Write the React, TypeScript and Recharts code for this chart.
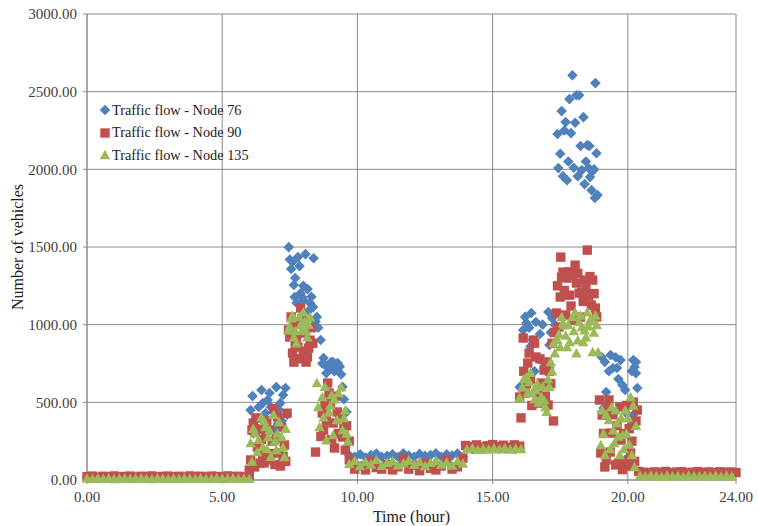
import { ScatterChart, Scatter, XAxis, YAxis, CartesianGrid } from "recharts"

const FONT = '"Liberation Serif", "Times New Roman", serif'

const hourTicks = [0, 5, 10, 15, 20, 24]
const vehicleTicks = [0, 500, 1000, 1500, 2000, 2500, 3000]

const seriesNames = ["Traffic flow - Node 76", "Traffic flow - Node 90", "Traffic flow - Node 135"]
const seriesColors = ["#4F81BD", "#C0504D", "#9BBB59"]

// [hour, vehicles]
const node76: [number, number][] = [
  [0, 14], [0.2, 16], [0.4, 12], [0.6, 15], [0.8, 18], [1.0, 13], [1.2, 15], [1.4, 17], [1.6, 12], [1.8, 14],
  [2.0, 16], [2.2, 15], [2.4, 13], [2.6, 17], [2.8, 14], [3.0, 12], [3.2, 15], [3.4, 16], [3.6, 14], [3.8, 13],
  [4.0, 15], [4.2, 17], [4.4, 14], [4.6, 12], [4.8, 16], [5.0, 15], [5.2, 13], [5.4, 14], [5.6, 16], [5.8, 15], [6.0, 13],
  [6.05, 450], [6.12, 540], [6.2, 380], [6.3, 310], [6.45, 579], [6.5, 495], [6.6, 430], [6.68, 515], [6.8, 470],
  [6.9, 438], [7.0, 598], [7.05, 360], [7.15, 495], [7.25, 547], [7.34, 592], [7.4, 420],
  [6.15, 300], [6.35, 470], [6.55, 390], [6.75, 560], [6.95, 330], [7.1, 450], [7.2, 380],
  [7.46, 1499], [7.55, 1358], [7.6, 1403], [7.65, 1255], [7.68, 1178], [7.8, 1435], [7.86, 1377], [7.95, 1178],
  [7.9, 1203], [8.08, 1454], [8.0, 1158], [8.16, 1229], [8.25, 1139], [8.38, 1428], [8.36, 1113], [8.5, 1050],
  [8.64, 901], [8.55, 980], [7.5, 1420], [7.7, 1300], [7.75, 1140], [8.0, 1250], [8.2, 1090], [8.3, 1180], [8.45, 1020],
  [8.75, 785], [8.85, 688], [8.95, 547], [9.0, 721], [9.03, 759], [9.15, 700], [9.27, 753], [9.35, 730],
  [9.45, 600], [9.6, 438], [9.5, 520], [8.7, 750], [8.8, 740], [9.1, 760], [9.2, 720], [9.4, 680],
  [9.7, 160], [9.9, 150], [10.1, 165], [10.3, 145], [10.5, 160], [10.7, 170], [10.9, 150], [11.1, 155], [11.3, 165],
  [11.5, 148], [11.7, 172], [11.9, 158], [12.1, 150], [12.3, 168], [12.5, 155], [12.7, 160], [12.9, 172], [13.1, 150],
  [13.3, 165], [13.5, 158], [13.7, 170], [13.9, 150],
  [14.05, 205], [14.25, 200], [14.45, 210], [14.65, 200], [14.85, 205], [15.05, 210], [15.25, 200], [15.45, 205],
  [15.65, 210], [15.85, 200], [16.0, 205],
  [16.0, 598], [16.13, 965], [16.25, 1010], [16.43, 1075], [16.5, 901], [16.55, 700], [16.6, 1017], [16.7, 780],
  [16.75, 940], [16.9, 753], [17.06, 1081], [17.1, 869], [17.2, 1042], [17.3, 1000],
  [16.2, 1050], [16.35, 980], [16.85, 1000], [17.15, 950], [16.4, 860],
  [17.4, 2227], [17.43, 2008], [17.55, 2375], [17.6, 1956], [17.7, 2304], [17.75, 1930], [17.84, 2452], [17.9, 2233],
  [17.95, 2606], [18.0, 2010], [18.1, 2477], [18.2, 2477], [18.15, 1956], [18.3, 1995], [18.36, 2336], [18.4, 1905],
  [18.5, 2156], [18.55, 2008], [18.58, 2150], [18.66, 1866], [18.7, 1990], [18.8, 2555], [18.84, 2104], [18.88, 1834],
  [18.78, 1815], [17.5, 2100], [17.65, 2250], [17.8, 2050], [18.05, 2300], [18.25, 2150], [18.45, 2050], [18.6, 1950],
  [18.75, 2000],
  [19.03, 792], [19.1, 463], [19.2, 566], [19.36, 804], [19.45, 721], [19.6, 721], [19.73, 772], [19.8, 611],
  [19.9, 579], [19.9, 130], [20.0, 420], [20.05, 90], [20.1, 350], [20.2, 772], [20.25, 727], [20.3, 688],
  [20.35, 592], [20.2, 418], [19.15, 760], [19.3, 700], [19.55, 790], [19.65, 650], [20.15, 700], [20.3, 760],
  [20.45, 45], [20.65, 40], [20.85, 48], [21.05, 42], [21.25, 38], [21.45, 46], [21.65, 44], [21.85, 40], [22.05, 47],
  [22.25, 43], [22.45, 39], [22.65, 45], [22.85, 42], [23.05, 48], [23.25, 41], [23.45, 44], [23.65, 40], [23.85, 46],
]

const node90: [number, number][] = [
  [0, 22], [0.2, 25], [0.4, 19], [0.6, 24], [0.8, 21], [1.0, 26], [1.2, 20], [1.4, 23], [1.6, 25], [1.8, 19],
  [2.0, 24], [2.2, 22], [2.4, 26], [2.6, 20], [2.8, 23], [3.0, 25], [3.2, 21], [3.4, 24], [3.6, 19], [3.8, 26],
  [4.0, 22], [4.2, 24], [4.4, 20], [4.6, 25], [4.8, 23], [5.0, 21], [5.2, 26], [5.4, 22], [5.6, 24], [5.8, 20], [6.0, 25],
  [6.0, 64], [6.05, 129], [6.1, 322], [6.15, 367], [6.2, 84], [6.3, 212], [6.4, 109], [6.5, 160], [6.6, 290],
  [6.7, 129], [6.75, 322], [6.85, 250], [6.95, 100], [7.0, 270], [7.05, 405], [7.1, 174], [7.2, 340], [7.3, 225],
  [7.35, 120], [7.4, 430], [6.25, 400], [6.45, 260], [6.55, 110], [6.65, 380], [6.8, 170], [6.9, 460], [7.15, 90],
  [7.25, 150], [6.35, 330],
  [7.45, 965], [7.5, 920], [7.6, 817], [7.65, 759], [7.75, 920], [7.8, 856], [7.9, 1107], [7.95, 1040], [8.05, 946],
  [8.1, 759], [8.15, 792], [8.2, 849], [8.3, 980], [8.35, 880], [7.55, 1050], [7.7, 870], [7.85, 780], [8.0, 830],
  [8.25, 900], [7.7, 1000],
  [8.45, 180], [8.7, 431], [8.75, 322], [8.8, 483], [8.9, 624], [8.95, 560], [9.0, 495], [9.1, 367], [9.15, 206],
  [9.25, 438], [9.3, 300], [9.45, 277], [9.55, 193], [9.6, 350], [9.7, 250], [8.85, 380], [9.05, 260], [9.2, 540],
  [9.35, 420], [9.5, 330], [8.65, 280],
  [9.7, 130], [9.9, 70], [10.1, 90], [10.3, 65], [10.5, 120], [10.7, 80], [10.9, 70], [11.1, 100], [11.3, 65],
  [11.5, 85], [11.7, 140], [11.9, 70], [12.1, 95], [12.3, 60], [12.5, 110], [12.7, 75], [12.9, 65], [13.1, 90],
  [13.3, 130], [13.5, 70], [13.7, 85], [13.9, 140],
  [14.0, 222], [14.2, 214], [14.4, 226], [14.6, 212], [14.8, 220], [15.0, 228], [15.2, 215], [15.4, 224], [15.6, 210],
  [15.8, 226], [16.0, 218],
  [16.0, 534], [16.05, 400], [16.13, 914], [16.2, 560], [16.3, 753], [16.35, 817], [16.45, 480], [16.55, 881],
  [16.6, 792], [16.7, 495], [16.8, 624], [16.9, 708], [17.0, 760], [17.05, 483], [17.15, 620], [17.25, 380],
  [16.15, 700], [16.25, 620], [16.4, 650], [16.5, 900], [16.65, 560], [16.75, 780], [16.95, 540], [17.1, 700],
  [17.2, 880], [17.3, 950],
  [17.36, 1075], [17.45, 985], [17.5, 1178], [17.52, 1435], [17.55, 1306], [17.6, 1338], [17.7, 1062], [17.75, 1300],
  [17.85, 1190], [17.95, 1319], [18.0, 1030], [18.05, 1383], [18.1, 1268], [18.2, 1203], [18.25, 1049], [18.3, 1210],
  [18.4, 1287], [18.5, 1480], [18.55, 1184], [18.65, 1126], [18.7, 1287], [18.8, 1107],
  [17.4, 1250], [17.65, 1220], [17.8, 1340], [17.9, 1120], [18.15, 1330], [18.35, 1150], [18.45, 1230], [18.6, 1310],
  [18.75, 1200], [18.85, 1050],
  [18.95, 515], [19.0, 174], [19.05, 418], [19.15, 84], [19.2, 129], [19.3, 515], [19.4, 302], [19.55, 97],
  [19.7, 470], [19.75, 257], [19.8, 67], [19.9, 120], [20.0, 90], [20.05, 330], [20.1, 174], [20.2, 502], [20.3, 380],
  [19.1, 300], [19.25, 460], [19.35, 180], [19.45, 420], [19.6, 350], [19.65, 110], [19.85, 300], [19.95, 480],
  [20.15, 250], [20.25, 120], [20.35, 450],
  [20.4, 55], [20.6, 50], [20.8, 46], [21.0, 52], [21.2, 48], [21.4, 55], [21.6, 47], [21.8, 51], [22.0, 53],
  [22.2, 46], [22.4, 50], [22.6, 54], [22.8, 48], [23.0, 52], [23.2, 47], [23.4, 53], [23.6, 49], [23.8, 51], [24.0, 48],
]

const node135: [number, number][] = [
  [0, 10], [0.2, 8], [0.4, 12], [0.6, 9], [0.8, 11], [1.0, 7], [1.2, 10], [1.4, 12], [1.6, 8], [1.8, 10],
  [2.0, 11], [2.2, 9], [2.4, 7], [2.6, 12], [2.8, 10], [3.0, 8], [3.2, 11], [3.4, 9], [3.6, 12], [3.8, 10],
  [4.0, 8], [4.2, 11], [4.4, 9], [4.6, 10], [4.8, 12], [5.0, 8], [5.2, 10], [5.4, 11], [5.6, 9], [5.8, 10], [6.0, 8],
  [6.05, 238], [6.1, 120], [6.2, 302], [6.3, 180], [6.45, 405], [6.5, 212], [6.6, 341], [6.7, 277], [6.8, 150],
  [6.9, 420], [7.0, 193], [7.1, 373], [7.2, 277], [7.3, 148], [7.35, 330], [6.15, 330], [6.35, 260], [6.55, 380],
  [6.65, 200], [6.75, 320], [6.95, 250], [7.05, 300], [7.25, 210],
  [7.45, 965], [7.55, 1042], [7.65, 920], [7.75, 881], [7.85, 1049], [7.95, 965], [8.0, 1081], [8.05, 1017],
  [8.15, 920], [8.2, 1000], [7.5, 990], [7.6, 1060], [7.7, 960], [7.9, 1000], [8.1, 960], [8.25, 1050],
  [8.5, 624], [8.6, 341], [8.7, 534], [8.75, 405], [8.85, 257], [8.95, 438], [9.05, 547], [9.1, 290], [9.25, 386],
  [9.4, 598], [9.45, 322], [9.55, 450], [9.6, 300], [8.55, 470], [8.8, 600], [9.0, 480], [9.15, 520], [9.3, 560],
  [9.5, 400], [9.65, 250],
  [9.7, 105], [9.9, 125], [10.1, 90], [10.3, 118], [10.5, 100], [10.7, 130], [10.9, 92], [11.1, 112], [11.3, 122],
  [11.5, 95], [11.7, 108], [11.9, 128], [12.1, 98], [12.3, 118], [12.5, 90], [12.7, 112], [12.9, 126], [13.1, 100],
  [13.3, 115], [13.5, 94], [13.7, 122], [13.9, 106],
  [14.05, 198], [14.25, 205], [14.45, 195], [14.65, 202], [14.85, 196], [15.05, 204], [15.25, 199], [15.45, 206],
  [15.65, 197], [15.85, 203], [16.05, 200],
  [16.0, 530], [16.1, 598], [16.25, 663], [16.35, 631], [16.45, 560], [16.6, 579], [16.7, 500], [16.8, 534],
  [16.9, 515], [17.0, 440], [17.1, 600], [17.2, 700], [17.3, 817], [16.15, 650], [16.3, 560], [16.4, 690],
  [16.55, 520], [16.65, 620], [16.85, 600], [16.95, 470], [17.05, 650], [17.15, 760], [17.25, 880],
  [17.4, 901], [17.5, 856], [17.6, 1010], [17.65, 997], [17.75, 856], [17.85, 888], [17.95, 1049], [18.05, 1081],
  [18.1, 817], [18.2, 1017], [18.3, 985], [18.35, 888], [18.4, 965], [18.5, 1081], [18.6, 1030], [18.7, 824],
  [18.8, 1060], [18.9, 824], [17.45, 940], [17.55, 1050], [17.7, 930], [17.8, 1000], [18.0, 960], [18.15, 900],
  [18.25, 1060], [18.45, 920], [18.55, 990], [18.65, 1040], [18.75, 950], [18.85, 1000],
  [19.0, 225], [19.05, 450], [19.15, 161], [19.3, 386], [19.4, 470], [19.5, 238], [19.6, 367], [19.7, 161],
  [19.8, 290], [19.9, 450], [20.0, 400], [20.1, 534], [20.15, 161], [20.25, 84], [19.1, 300], [19.2, 420],
  [19.35, 200], [19.45, 320], [19.55, 450], [19.65, 280], [19.75, 400], [19.85, 200], [19.95, 300], [20.05, 230],
  [20.2, 480], [20.3, 350],
  [20.45, 28], [20.65, 24], [20.85, 30], [21.05, 26], [21.25, 22], [21.45, 29], [21.65, 25], [21.85, 27], [22.05, 23],
  [22.25, 30], [22.45, 26], [22.65, 24], [22.85, 28], [23.05, 25], [23.25, 29], [23.45, 23], [23.65, 27], [23.85, 25],
]

const toPoints = (rows: [number, number][]) => rows.map(([hour, vehicles]) => ({ hour, vehicles }))

const Diamond = ({ cx, cy, fill }: any) => (
  <path d={`M${cx},${cy - 5.3}L${cx + 5.3},${cy}L${cx},${cy + 5.3}L${cx - 5.3},${cy}Z`} fill={fill} />
)
const Square = ({ cx, cy, fill }: any) => <rect x={cx - 4.7} y={cy - 4.7} width={9.4} height={9.4} fill={fill} />
const Triangle = ({ cx, cy, fill }: any) => (
  <path d={`M${cx},${cy - 5.2}L${cx + 5.3},${cy + 4.3}L${cx - 5.3},${cy + 4.3}Z`} fill={fill} />
)
const markers = [Diamond, Square, Triangle]

const tickStyle = { fill: "#404040", fontSize: 15, fontFamily: FONT }

function LegendBox() {
  return (
    <div style={{ position: "absolute", left: 99, top: 99, fontFamily: FONT, fontSize: 14.3, color: "#222" }}>
      {seriesNames.map((name, i) => {
        const Marker = markers[i]
        return (
          <div key={name} style={{ display: "flex", alignItems: "center", height: 22.5 }}>
            <svg width={13} height={12}>
              <Marker cx={6} cy={6} fill={seriesColors[i]} />
            </svg>
            <span>{name}</span>
          </div>
        )
      })}
    </div>
  )
}

export default function App() {
  const series = [node76, node90, node135]
  return (
    <div style={{ position: "absolute", left: 0, top: 0, width: 758, height: 526, background: "#fff" }}>
      <ScatterChart width={758} height={526} margin={{ top: 14, right: 22, bottom: 0, left: 0 }}>
        <CartesianGrid stroke="#8a8a8a" strokeWidth={1} />
        <XAxis
          dataKey="hour"
          type="number"
          domain={[0, 24]}
          ticks={hourTicks}
          tickFormatter={(v: number) => v.toFixed(2)}
          stroke="#8a8a8a"
          tick={tickStyle}
          tickSize={4}
          tickMargin={7}
          height={46}
          label={{ value: "Time (hour)", position: "insideBottom", offset: 4, fill: "#222", fontSize: 16, fontFamily: FONT }}
        />
        <YAxis
          dataKey="vehicles"
          type="number"
          domain={[0, 3000]}
          ticks={vehicleTicks}
          tickFormatter={(v: number) => v.toFixed(2)}
          stroke="#8a8a8a"
          tick={tickStyle}
          tickSize={4}
          tickMargin={6}
          width={87}
          label={{
            value: "Number of vehicles",
            angle: -90,
            position: "insideLeft",
            offset: 17,
            fill: "#222",
            fontSize: 16,
            fontFamily: FONT,
            style: { textAnchor: "middle" },
          }}
        />
        {series.map((rows, i) => (
          <Scatter
            key={seriesNames[i]}
            name={seriesNames[i]}
            data={toPoints(rows)}
            fill={seriesColors[i]}
            shape={markers[i]}
            isAnimationActive={false}
          />
        ))}
      </ScatterChart>
      <LegendBox />
    </div>
  )
}
